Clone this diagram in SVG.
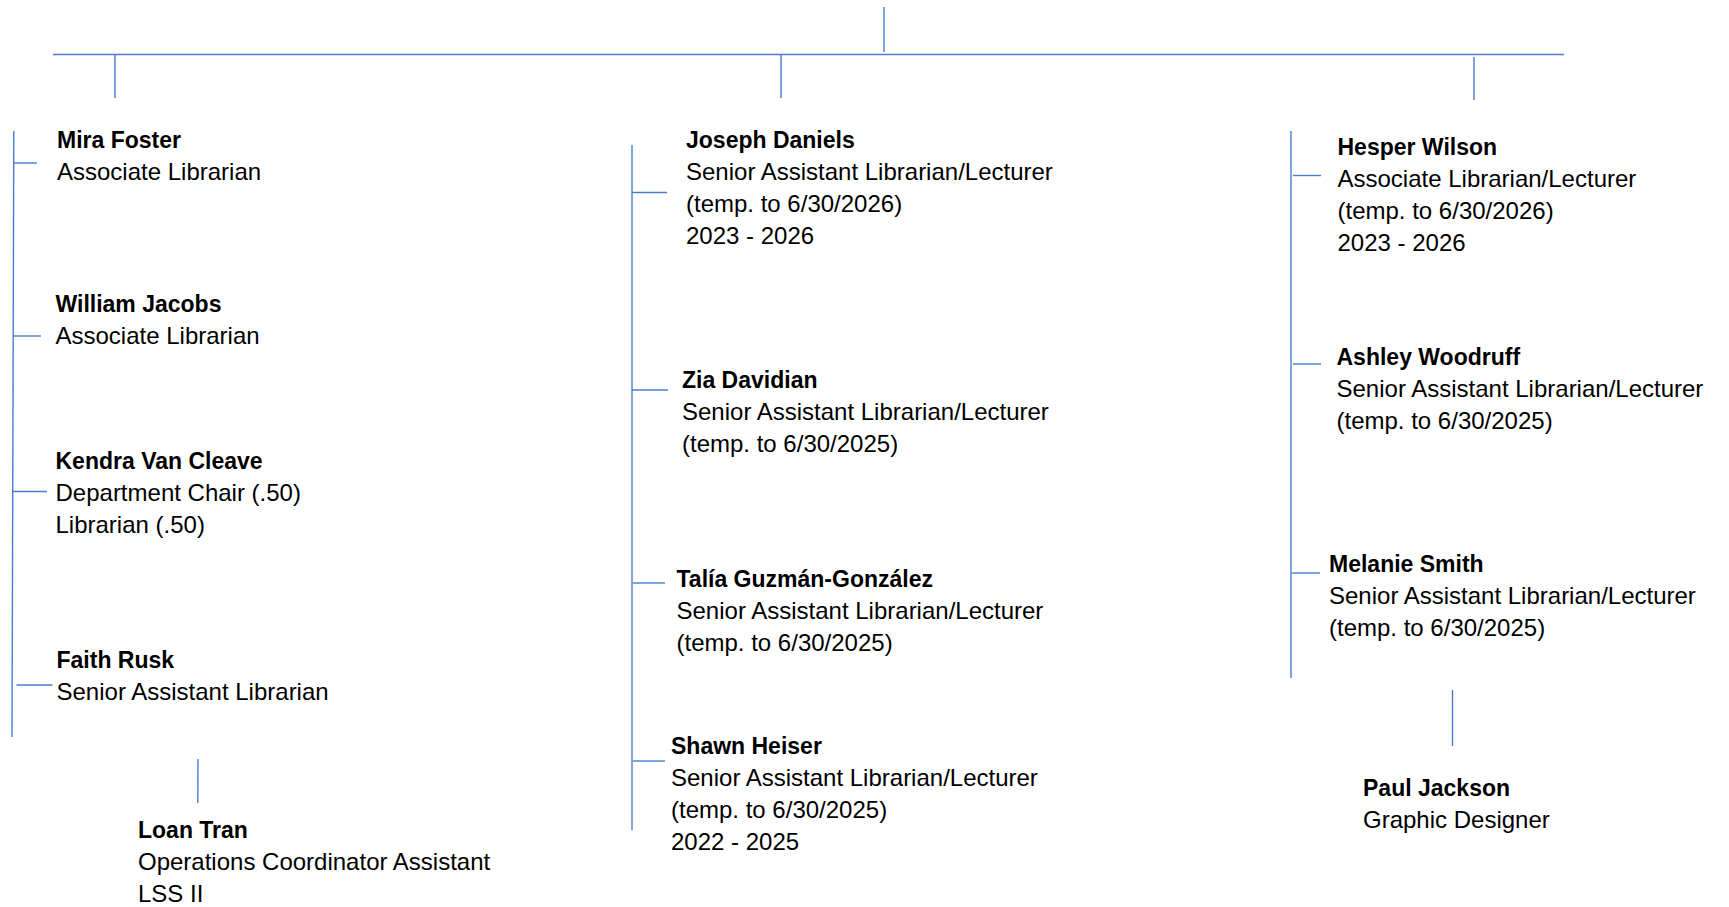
<svg xmlns="http://www.w3.org/2000/svg" width="1729" height="907" viewBox="0 0 1729 907">
<style>
.t{font-family:"Liberation Sans",Arial,sans-serif;font-size:24px;fill:#000}
.n{font-weight:bold;font-size:23px}
.c{stroke:#4a7bd0;stroke-width:1.4;fill:none}
</style>
<rect width="1729" height="907" fill="#fff"/>
<g id="connectors" class="c">
<line x1="884" y1="7" x2="884" y2="52"/>
<line x1="53" y1="54.5" x2="1564" y2="54.5"/>
<line x1="115" y1="55" x2="115" y2="98"/>
<line x1="781" y1="55" x2="781" y2="98"/>
<line x1="1474" y1="57" x2="1474" y2="100"/>
<line x1="13.8" y1="131" x2="12" y2="737"/>
<line x1="14" y1="163" x2="37" y2="163"/>
<line x1="13" y1="336" x2="41" y2="336"/>
<line x1="13" y1="491.5" x2="47" y2="491.5"/>
<line x1="16.5" y1="685" x2="52.5" y2="685"/>
<line x1="198" y1="759" x2="197.8" y2="803"/>
<line x1="632" y1="145" x2="632" y2="830"/>
<line x1="632" y1="192.5" x2="667" y2="192.5"/>
<line x1="632" y1="390" x2="668" y2="390"/>
<line x1="633" y1="583" x2="665" y2="583"/>
<line x1="633" y1="761" x2="665" y2="761"/>
<line x1="1291" y1="131" x2="1291" y2="678"/>
<line x1="1293" y1="175.5" x2="1321" y2="175.5"/>
<line x1="1293" y1="364" x2="1321" y2="364"/>
<line x1="1292" y1="573" x2="1320" y2="573"/>
<line x1="1452.5" y1="690" x2="1452.5" y2="746"/>
</g>
<g id="mira-foster"><text class="t"><tspan class="n" x="57" y="148">Mira Foster</tspan><tspan x="57" y="180">Associate Librarian</tspan></text></g>
<g id="william-jacobs"><text class="t"><tspan class="n" x="55.5" y="312">William Jacobs</tspan><tspan x="55.5" y="344">Associate Librarian</tspan></text></g>
<g id="kendra-van-cleave"><text class="t"><tspan class="n" x="55.5" y="469">Kendra Van Cleave</tspan><tspan x="55.5" y="501">Department Chair (.50)</tspan><tspan x="55.5" y="533">Librarian (.50)</tspan></text></g>
<g id="faith-rusk"><text class="t"><tspan class="n" x="56.5" y="668">Faith Rusk</tspan><tspan x="56.5" y="700">Senior Assistant Librarian</tspan></text></g>
<g id="loan-tran"><text class="t"><tspan class="n" x="138" y="838">Loan Tran</tspan><tspan x="138" y="870">Operations Coordinator Assistant</tspan><tspan x="138" y="902">LSS II</tspan></text></g>
<g id="joseph-daniels"><text class="t"><tspan class="n" x="686" y="148">Joseph Daniels</tspan><tspan x="686" y="180">Senior Assistant Librarian/Lecturer</tspan><tspan x="686" y="212">(temp. to 6/30/2026)</tspan><tspan x="686" y="244">2023 - 2026</tspan></text></g>
<g id="zia-davidian"><text class="t"><tspan class="n" x="682" y="388">Zia Davidian</tspan><tspan x="682" y="420">Senior Assistant Librarian/Lecturer</tspan><tspan x="682" y="452">(temp. to 6/30/2025)</tspan></text></g>
<g id="talia-guzman-gonzalez"><text class="t"><tspan class="n" x="676.5" y="587">Talía Guzmán-González</tspan><tspan x="676.5" y="619">Senior Assistant Librarian/Lecturer</tspan><tspan x="676.5" y="651">(temp. to 6/30/2025)</tspan></text></g>
<g id="shawn-heiser"><text class="t"><tspan class="n" x="671" y="754">Shawn Heiser</tspan><tspan x="671" y="786">Senior Assistant Librarian/Lecturer</tspan><tspan x="671" y="818">(temp. to 6/30/2025)</tspan><tspan x="671" y="850">2022 - 2025</tspan></text></g>
<g id="hesper-wilson"><text class="t"><tspan class="n" x="1337.5" y="155">Hesper Wilson</tspan><tspan x="1337.5" y="187">Associate Librarian/Lecturer</tspan><tspan x="1337.5" y="219">(temp. to 6/30/2026)</tspan><tspan x="1337.5" y="251">2023 - 2026</tspan></text></g>
<g id="ashley-woodruff"><text class="t"><tspan class="n" x="1336.5" y="365">Ashley Woodruff</tspan><tspan x="1336.5" y="397">Senior Assistant Librarian/Lecturer</tspan><tspan x="1336.5" y="429">(temp. to 6/30/2025)</tspan></text></g>
<g id="melanie-smith"><text class="t"><tspan class="n" x="1329" y="572">Melanie Smith</tspan><tspan x="1329" y="604">Senior Assistant Librarian/Lecturer</tspan><tspan x="1329" y="636">(temp. to 6/30/2025)</tspan></text></g>
<g id="paul-jackson"><text class="t"><tspan class="n" x="1363" y="796">Paul Jackson</tspan><tspan x="1363" y="828">Graphic Designer</tspan></text></g>
</svg>
